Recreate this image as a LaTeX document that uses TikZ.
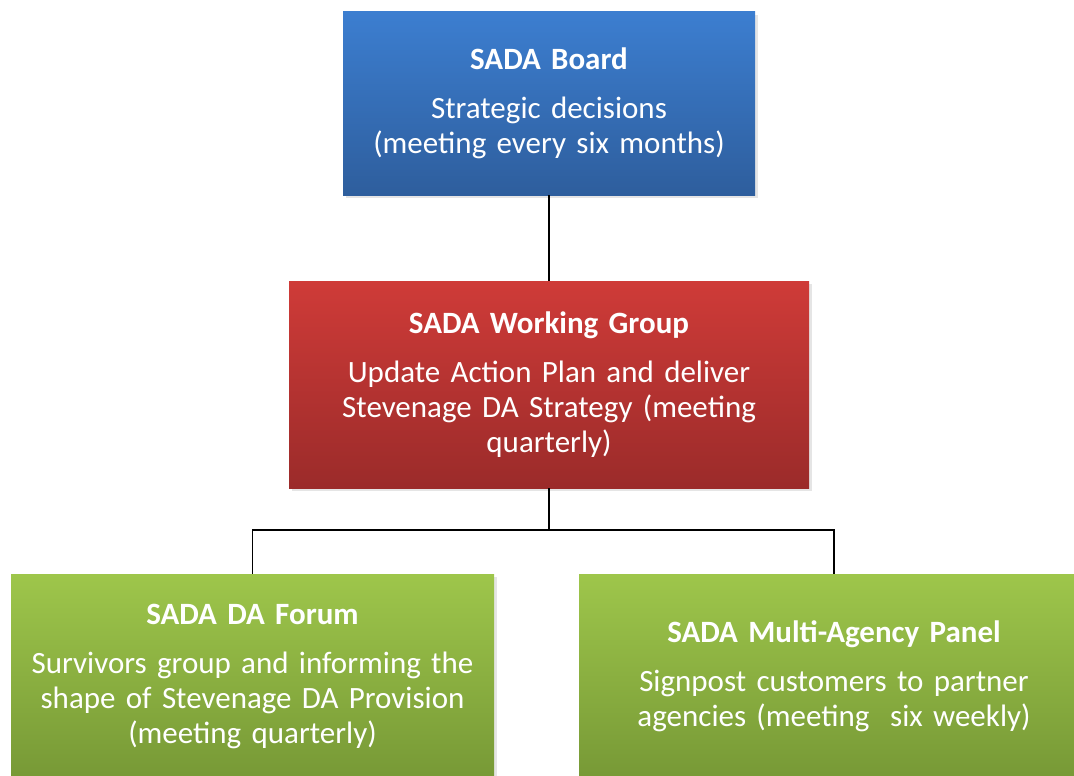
\documentclass[tikz,border=0pt]{standalone}
\usepackage{fontspec}
\setmainfont{Carlito}
\usetikzlibrary{shadows}
\definecolor{boardtop}{HTML}{3C7ED0}
\definecolor{boardbot}{HTML}{2E5E9D}
\definecolor{worktop}{HTML}{CF3B38}
\definecolor{workbot}{HTML}{9B2B2A}
\definecolor{forumtop}{HTML}{9EC64B}
\definecolor{forumbot}{HTML}{779936}
\tikzstyle{tier box} = [rectangle, inner sep=0pt, align=center, text=white,
  font=\fontsize{31}{35}\selectfont,
  drop shadow={shadow xshift=3pt,shadow yshift=-3pt,fill=black!20}]
\tikzstyle{board box} = [tier box, top color=boardtop, bottom color=boardbot]
\tikzstyle{work box} = [tier box, top color=worktop, bottom color=workbot]
\tikzstyle{forum box} = [tier box, top color=forumtop, bottom color=forumbot]
\tikzstyle{link} = [line width=1.5pt, black]
\newcommand{\tier}[1]{\textbf{#1}\\[14pt]}

\begin{document}
\begin{tikzpicture}[x=1pt,y=-1pt]
    \useasboundingbox (0,0) rectangle (1074,776);
    \clip (0,0) rectangle (1074,776);

    \node[board box, minimum width=412pt, minimum height=183pt, text width=400pt] (board) at (549,103.5)
      {\tier{SADA Board}Strategic decisions\\(meeting every six months)};
    \node[work box, minimum width=520pt, minimum height=207pt, text width=500pt] (work) at (549,384.5)
      {\tier{SADA Working Group}Update Action Plan and deliver\\Stevenage DA Strategy (meeting\\quarterly)};
    \node[forum box, minimum width=483pt, minimum height=204pt, text width=470pt] (forum) at (252.5,676)
      {\tier{SADA DA Forum}Survivors group and informing the\\shape of Stevenage DA Provision\\(meeting quarterly)};
    \node[forum box, minimum width=510pt, minimum height=204pt, text width=490pt] (panel) at (834,676)
      {\tier{SADA Multi-Agency Panel}Signpost customers to partner\\agencies (meeting\ \ six weekly)};

    % board down to the working group
    \draw[link] (board.south) -- (work.north);
    % working group to the two groups below
    \draw[link] (work.south) -- ++(0,42) -| (forum.north);
    \draw[link] (work.south) -- ++(0,42) -| (panel.north);
\end{tikzpicture}
\end{document}
